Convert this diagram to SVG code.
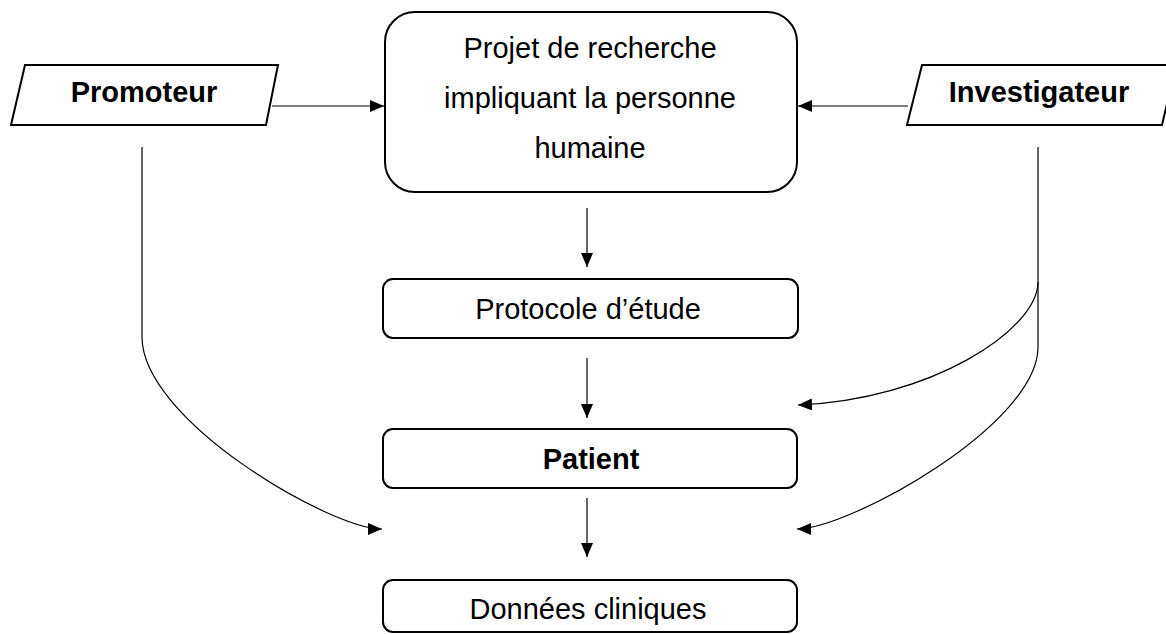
<svg xmlns="http://www.w3.org/2000/svg" width="1166" height="634" viewBox="0 0 1166 634">
<defs>
<marker id="ah" markerUnits="userSpaceOnUse" markerWidth="14" markerHeight="12" refX="14" refY="6" orient="auto">
<path d="M0,0 L14,6 L0,12 z" fill="#000"/>
</marker>
<style>
.box{fill:#fff;stroke:#000;stroke-width:2}
.con{fill:none;stroke:#000;stroke-width:1.2;marker-end:url(#ah)}
.t{font-family:"Liberation Sans",Arial,sans-serif;font-size:29px;fill:#000;text-anchor:middle}
.b{font-weight:bold}
</style>
</defs>
<rect width="1166" height="634" fill="#fff"/>
<g id="connectors">
<line class="con" x1="272" y1="106" x2="384" y2="106"/>
<line class="con" x1="908" y1="106" x2="798" y2="106"/>
<line class="con" x1="587" y1="208" x2="587" y2="267"/>
<line class="con" x1="587" y1="358" x2="587" y2="418"/>
<line class="con" x1="587" y1="498" x2="587" y2="557"/>
<path class="con" d="M142,147 L142,337 C142,420 330,529 382,529"/>
<path class="con" d="M1038,147 L1038,347 C1038,425 849,529 797,529"/>
<path class="con" d="M1038,282 C1038,330 930,400 798,405"/>
</g>
<g id="promoteur">
<polygon class="box" points="25,65 278,65 266,125 11,125"/>
<text class="t b" x="144" y="102">Promoteur</text>
</g>
<g id="investigateur">
<polygon class="box" points="922,65 1176,65 1162,125 907,125"/>
<text class="t b" x="1039" y="102">Investigateur</text>
</g>
<g id="projet">
<rect class="box" x="385" y="12" width="412" height="180" rx="30" ry="30"/>
<text class="t" x="590" y="58">Projet de recherche</text>
<text class="t" x="590" y="108">impliquant la personne</text>
<text class="t" x="590" y="158">humaine</text>
</g>
<g id="protocole">
<rect class="box" x="383" y="279" width="415" height="59" rx="10" ry="10"/>
<text class="t" x="588" y="319">Protocole d’étude</text>
</g>
<g id="patient">
<rect class="box" x="383" y="429" width="414" height="59" rx="10" ry="10"/>
<text class="t b" x="591" y="469">Patient</text>
</g>
<g id="donnees">
<rect class="box" x="383" y="580" width="414" height="52" rx="10" ry="10"/>
<text class="t" x="588" y="619">Données cliniques</text>
</g>
</svg>
